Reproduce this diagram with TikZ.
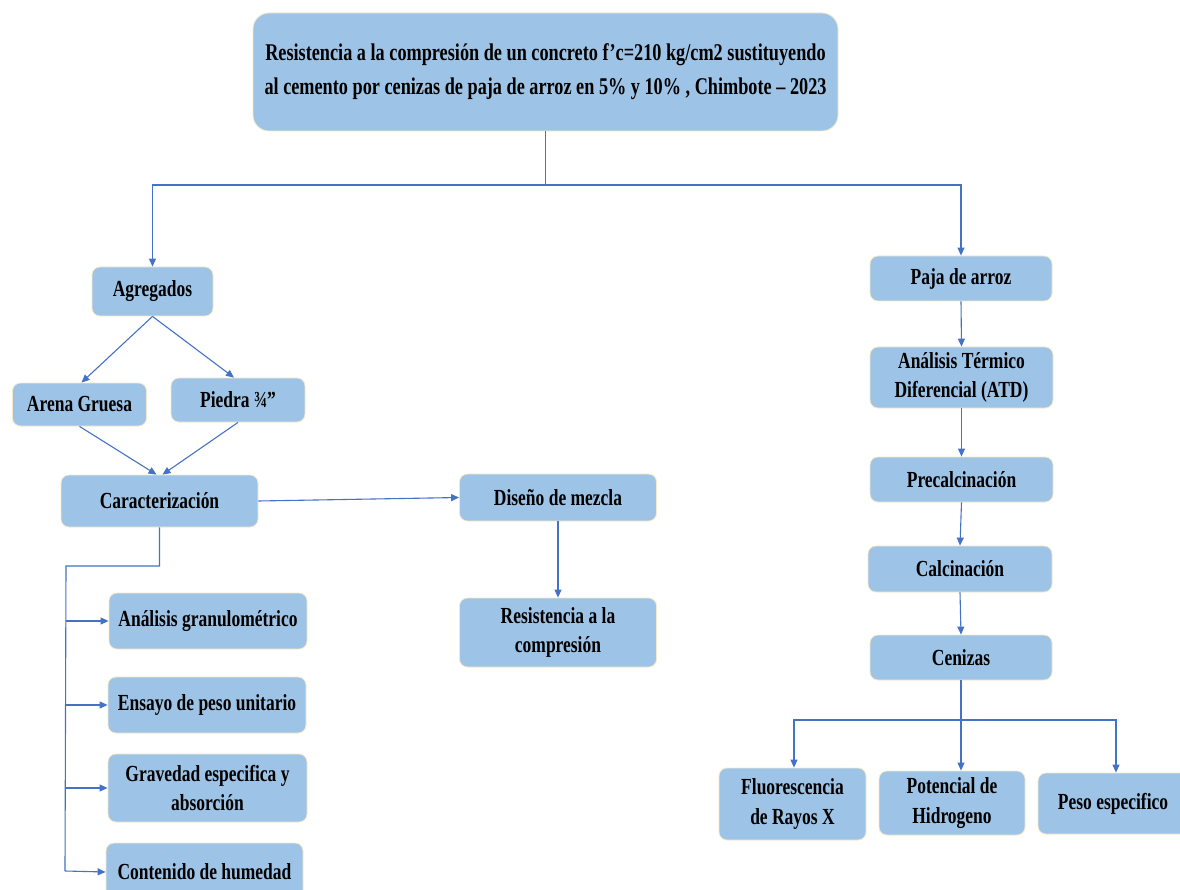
\documentclass[tikz,border=0pt]{standalone}
\usepackage{fontspec}
\setmainfont{Liberation Serif}[FakeStretch=0.76]
\usetikzlibrary{arrows.meta}
\definecolor{boxfill}{HTML}{9DC3E6}
\definecolor{boxline}{HTML}{F3E9C6}
\definecolor{conn}{HTML}{4472C4}
\tikzset{
  box/.style={draw=boxline, line width=0.8pt, fill=boxfill, rounded corners=8pt, align=center,
    inner sep=2pt, font=\bfseries\fontsize{23}{29.5}\selectfont, text=black},
  link/.style={draw=conn, line width=1.1pt},
  arr/.style={link, -{Triangle[width=7pt,length=8pt]}},
}
\begin{document}
\begin{tikzpicture}[x=1pt,y=-1pt]
\useasboundingbox (0,0) rectangle (1180,890);
\clip (0,0) rectangle (1180,890);
% nodes
\node[box, rounded corners=16pt, minimum width=585pt, minimum height=118pt, font=\bfseries\fontsize{24}{34}\selectfont] (title) at (545.5,72)
  {Resistencia a la compresión de un concreto f’c=210 kg/cm2 sustituyendo\\al cemento por cenizas de paja de arroz en 5\% y 10\% , Chimbote – 2023};
\node[box, minimum width=121pt, minimum height=49pt] (agr) at (152.5,291.5) {Agregados};
\node[box, minimum width=134pt, minimum height=43pt] (arena) at (79.5,404.5) {Arena Gruesa};
\node[box, minimum width=134pt, minimum height=44pt] (piedra) at (238,400) {Piedra ¾”};
\node[box, minimum width=197pt, minimum height=52pt] (car) at (159.5,501) {Caracterización};
\node[box, minimum width=197pt, minimum height=47pt] (dis) at (558,497.5) {Diseño de mezcla};
\node[box, minimum width=197pt, minimum height=69pt] (res) at (558,632.5) {Resistencia a la\\compresión};
\node[box, minimum width=198pt, minimum height=56pt] (gran) at (208,621) {Análisis granulométrico};
\node[box, minimum width=198pt, minimum height=56pt] (ens) at (207,705) {Ensayo de peso unitario};
\node[box, minimum width=199pt, minimum height=68pt] (grav) at (207.5,788) {Gravedad especifica y\\absorción};
\node[box, minimum width=197pt, minimum height=58pt] (cont) at (204.5,872) {Contenido de humedad};
\node[box, minimum width=182pt, minimum height=45pt] (paja) at (961,278.5) {Paja de arroz};
\node[box, minimum width=183pt, minimum height=61pt] (atd) at (961.5,377.5) {Análisis Térmico\\Diferencial (ATD)};
\node[box, minimum width=183pt, minimum height=45pt] (pre) at (961.5,479.5) {Precalcinación};
\node[box, minimum width=184pt, minimum height=46pt] (cal) at (960,569) {Calcinación};
\node[box, minimum width=182pt, minimum height=45pt] (cen) at (961,657.5) {Cenizas};
\node[box, minimum width=147pt, minimum height=72pt] (flu) at (792.5,804) {Fluorescencia\\de Rayos X};
\node[box, minimum width=146pt, minimum height=64pt] (pot) at (952,803) {Potencial de\\Hidrogeno};
\node[box, minimum width=150pt, minimum height=61pt] (peso) at (1113,803.5) {Peso especifico};
% junctions
\coordinate (j0) at (545.5,185);
\coordinate (c1) at (66,566);
\coordinate (c2) at (65,871);
\coordinate (j1) at (961,720);
% connectors
\draw[link] (title.south) -- (j0);
\draw[arr] (j0) -| (agr.north);
\draw[arr] (j0) -| (paja.north);
\draw[arr] (agr.south) -- ([xshift=2pt]arena.north);
\draw[arr] (agr.south) -- ([xshift=-4pt]piedra.north);
\draw[arr] (arena.south) -- ([xshift=-3pt]car.north);
\draw[arr] (piedra.south) -- ([xshift=3pt]car.north);
\draw[arr] (car.east) -- (dis.west);
\draw[arr] (dis.south) -- (res.north);
\draw[link] (car.south) |- (c1) -- (c2);
\draw[arr] (c1 |- gran.west) -- (gran.west);
\draw[arr] (c1 |- ens.west) -- (ens.west);
\draw[arr] (c1 |- grav.west) -- (grav.west);
\draw[arr] (c2) -- (cont.west);
\draw[arr] (paja.south) -- (atd.north);
\draw[arr] (atd.south) -- (pre.north);
\draw[arr] (pre.south) -- (cal.north);
\draw[arr] (cal.south) -- (cen.north);
\draw[link] (cen.south) -- (j1);
\draw[arr] (j1) -- (j1 |- pot.north);
\draw[arr] (j1) -| ([xshift=1.5pt]flu.north);
\draw[arr] (j1) -| ([xshift=3pt]peso.north);
\end{tikzpicture}
\end{document}
